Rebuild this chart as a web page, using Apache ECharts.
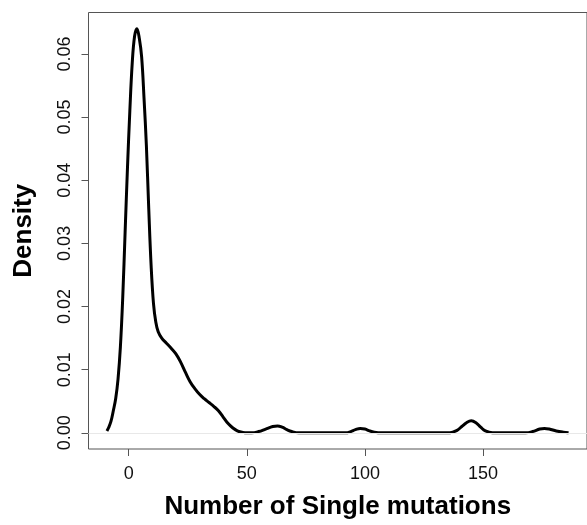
<!DOCTYPE html>
<html>
<head>
<meta charset="utf-8">
<script src="https://cdn.jsdelivr.net/npm/echarts@6/dist/echarts.min.js"></script>
<style>
  html, body { margin: 0; padding: 0; background: #fff; }
  #chart { width: 587px; height: 525px; }
</style>
</head>
<body>
<div id="chart"></div>
<script>
// Kernel density estimate of single-mutation counts
const mutations = [
  -9.2, -8.5, -7.5, -6.5, -5.5, -4.5, -3.5, -2.5, -1.5, -0.5,
  0.5, 1.5, 2.5, 3.5, 4.5, 5.5, 6.5, 7.5, 8.5, 9.5,
  10.5, 11.5, 12.5, 14, 16, 18, 20, 22, 24, 26,
  28, 30, 32, 34, 36, 38, 40, 42, 44, 46,
  48, 50, 52, 55, 58, 61, 63, 65, 67, 69,
  72, 80, 92, 94, 96, 98, 100, 102, 104, 107,
  120, 136, 139, 141, 143, 145, 147, 149, 151, 154,
  160, 168, 171, 174, 176, 178, 181, 184, 186.2
];
const density = [
  0.0003, 0.0008, 0.0018, 0.0035, 0.0054, 0.0085, 0.0136, 0.0215, 0.0318, 0.0420,
  0.0510, 0.0585, 0.0628, 0.0640, 0.0625, 0.0595, 0.0530, 0.0455, 0.0355, 0.0265,
  0.0205, 0.0175, 0.0160, 0.0150, 0.0142, 0.0134, 0.0125, 0.0112, 0.0096, 0.0081,
  0.0070, 0.0061, 0.0054, 0.0048, 0.0042, 0.0035, 0.0025, 0.0015, 0.0008, 0.0003,
  0.0001, 0.0000, 0.0000, 0.0002, 0.0006, 0.0010, 0.0011, 0.0009, 0.0005, 0.0002,
  0.0000, 0.0000, 0.0000, 0.0002, 0.0005, 0.0007, 0.0006, 0.0003, 0.0001, 0.0000,
  0.0000, 0.0000, 0.0004, 0.0010, 0.0016, 0.0019, 0.0016, 0.0009, 0.0003, 0.0000,
  0.0000, 0.0000, 0.0002, 0.0006, 0.0007, 0.0006, 0.0003, 0.0001, 0.0000
];
const xTicks = [0, 50, 100, 150];
const yTicks = [0, 0.01, 0.02, 0.03, 0.04, 0.05, 0.06];

const points = mutations.map((m, i) => [m, density[i]]);

const font = 'Liberation Sans, Arial, Helvetica, sans-serif';
const frame = '#555555';

const chart = echarts.init(document.getElementById('chart'), null, { renderer: 'canvas' });
chart.setOption({
  animation: false,
  backgroundColor: '#ffffff',
  grid: {
    left: 88.5, top: 12.5, width: 512, height: 442.5,
    show: true, borderColor: frame, borderWidth: 1, backgroundColor: 'transparent'
  },
  xAxis: {
    type: 'value',
    min: -17.0, max: 194.0,
    splitLine: { show: false },
    axisLine: { show: false, onZero: false },
    axisTick: { show: true, length: 7, lineStyle: { color: frame, width: 1 }, customValues: xTicks },
    axisLabel: { customValues: xTicks, margin: 16, color: '#111', fontSize: 18, fontFamily: font },
    name: 'Number of Single mutations',
    nameLocation: 'middle',
    nameGap: 45,
    nameTextStyle: { fontSize: 26, fontWeight: 'bold', color: '#000', fontFamily: font }
  },
  yAxis: {
    type: 'value',
    min: -0.00256, max: 0.06656,
    splitLine: { show: false },
    axisLine: { show: false, onZero: false },
    axisTick: { show: true, length: 7, lineStyle: { color: frame, width: 1 }, customValues: yTicks },
    axisLabel: {
      customValues: yTicks, rotate: 90, margin: 14, color: '#111', fontSize: 18, fontFamily: font,
      formatter: v => v.toFixed(2)
    },
    name: 'Density',
    nameLocation: 'middle',
    nameGap: 52,
    nameRotate: 90,
    nameTextStyle: { fontSize: 26, fontWeight: 'bold', color: '#000', fontFamily: font }
  },
  series: [{
    type: 'line',
    data: points,
    showSymbol: false,
    smooth: 0.4,
    lineStyle: { color: '#000', width: 3 },
    markLine: {
      silent: true,
      symbol: 'none',
      label: { show: false },
      lineStyle: { color: '#e8e8e8', width: 1, type: 'solid' },
      data: [{ yAxis: 0 }]
    },
    z: 3
  }]
});
</script>
</body>
</html>
